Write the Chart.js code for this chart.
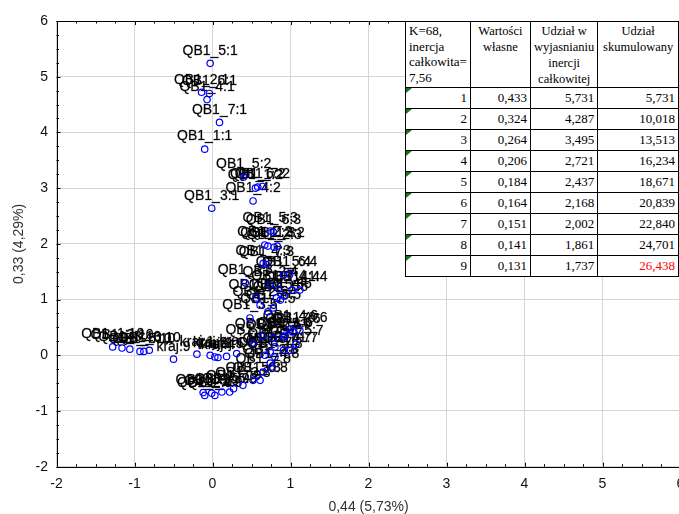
<!DOCTYPE html>
<html>
<head>
<meta charset="utf-8">
<script src="https://cdn.jsdelivr.net/npm/chart.js@4/dist/chart.umd.min.js"></script>
<style>
html,body{margin:0;padding:0;background:#fff;overflow:hidden;}
#wrap{position:relative;width:679px;height:514px;overflow:hidden;}
#wrap canvas{position:absolute;left:0;top:0;}
#tbl{position:absolute;left:405px;top:21px;border-collapse:collapse;table-layout:fixed;background:#fff;
  font-family:"Liberation Serif","Times New Roman",serif;font-size:13px;color:#000;}
#tbl td{border:1px solid #000;padding:0 3px;height:20px;text-align:right;position:relative;line-height:20px;white-space:nowrap;}
#tbl tr.head td{height:64px;vertical-align:top;text-align:center;font-size:12.5px;line-height:16px;padding-top:1px;}
#tbl tr.head td.k{text-align:left;font-size:13px;line-height:15.5px;}
#tbl td.n::before{content:"";position:absolute;left:0;top:0;border-top:5px solid #137a13;border-right:6px solid transparent;}
#tbl td.red{color:#ff0000;}
</style>
</head>
<body>
<div id="wrap">
<canvas id="mca_chart" width="700" height="514"></canvas>
<table id="tbl">
<colgroup><col style="width:61px"><col style="width:66px"><col style="width:67px"><col style="width:83px"></colgroup>
<tbody id="tbody"></tbody>
</table>
</div>
<script>
// punkty kategorii: etykieta, wymiar 1, wymiar 2
const catLabels = [
  'QB1_1:1','QB1_2:1','QB1_3:1','QB1_4:1','QB1_5:1','QB1_6:1','QB1_7:1',
  'QB1_1:2','QB1_2:2','QB1_3:2','QB1_4:2','QB1_5:2','QB1_6:2','QB1_7:2',
  'QB1_1:3','QB1_2:3','QB1_3:3','QB1_4:3','QB1_5:3','QB1_6:3','QB1_7:3',
  'QB1_1:4','QB1_2:4','QB1_3:4','QB1_4:4','QB1_5:4','QB1_6:4','QB1_7:4',
  'QB1_1:5','QB1_2:5','QB1_3:5','QB1_4:5','QB1_5:5','QB1_6:5','QB1_7:5',
  'QB1_1:6','QB1_2:6','QB1_3:6','QB1_4:6','QB1_5:6','QB1_6:6','QB1_7:6',
  'QB1_1:7','QB1_2:7','QB1_3:7','QB1_4:7','QB1_5:7','QB1_6:7','QB1_7:7',
  'QB1_1:8','QB1_2:8','QB1_3:8','QB1_4:8','QB1_5:8','QB1_6:8','QB1_7:8',
  'QB1_1:9','QB1_2:9','QB1_3:9','QB1_4:9','QB1_5:9','QB1_6:9','QB1_7:9',
  'QB1_1:10','QB1_2:10','QB1_3:10','QB1_4:10','QB1_5:10','QB1_6:10',
  'kraj:9','kraj:1','kraj:2','kraj:3','kraj:4','kraj:5','kraj:6'
];
const dim1 = [
  -0.10,-0.14,-0.01,-0.07,-0.03,-0.04,0.09,
  0.55,0.67,0.83,0.52,0.40,0.58,0.64,
  0.71,0.79,0.42,0.65,0.74,0.78,0.69,
  1.12,0.74,0.56,1.02,0.91,0.99,0.85,
  0.87,0.61,0.48,0.92,0.82,0.78,0.71,
  0.93,0.78,0.64,1.00,0.91,1.12,1.03,
  1.00,0.80,0.52,0.91,1.07,0.74,0.67,
  0.80,0.74,0.39,0.76,0.52,0.61,0.65,
  -0.12,-0.10,-0.01,0.03,0.12,0.22,0.27,
  -1.28,-1.16,-1.06,-0.93,-0.88,-0.81,
  -0.50,-0.20,-0.03,0.03,0.07,0.18,0.31
];
const dim2 = [
  3.70,4.72,2.64,4.59,5.24,4.70,4.18,
  3.00,1.98,1.96,2.77,3.20,3.02,3.03,
  1.96,1.94,1.30,1.65,2.23,2.21,1.63,
  1.17,1.26,1.03,1.17,1.44,1.45,1.19,
  0.99,0.90,0.67,1.06,1.03,0.85,0.78,
  0.36,0.31,0.34,0.47,0.33,0.45,0.42,
  0.09,0.15,0.22,0.09,0.20,0.06,0.00,
  -0.03,-0.14,-0.54,-0.21,-0.45,-0.45,-0.30,
  -0.67,-0.72,-0.68,-0.72,-0.66,-0.66,-0.60,
  0.15,0.13,0.11,0.07,0.07,0.09,
  -0.07,0.02,0.00,-0.03,-0.04,-0.02,0.03
];

// tabela wartosci wlasnych
const tableHead = ['K=68,<br>inercja<br>całkowita=<br>7,56','Wartości<br>własne','Udział w<br>wyjasnianiu<br>inercji<br>całkowitej','Udział<br>skumulowany'];
const dimNo = [1,2,3,4,5,6,7,8,9];
const eigenValues = ['0,433','0,324','0,264','0,206','0,184','0,164','0,151','0,141','0,131'];
const inertiaShare = ['5,731','4,287','3,495','2,721','2,437','2,168','2,002','1,861','1,737'];
const cumulShare = ['5,731','10,018','13,513','16,234','18,671','20,839','22,840','24,701','26,438'];

const buildTable = () => {
  const tb = document.getElementById('tbody');
  let html = '<tr class="head">';
  tableHead.forEach((h,i) => { html += '<td' + (i===0?' class="k"':'') + '>' + h + '</td>'; });
  html += '</tr>';
  for(let i = 0;i < dimNo.length;i++) {
    const last = i === dimNo.length - 1;
    html += '<tr><td class="n">' + dimNo[i] + '</td><td>' + eigenValues[i] + '</td><td>' + inertiaShare[i] +
      '</td><td' + (last?' class="red"':'') + '>' + cumulShare[i] + '</td></tr>';
  }
  tb.innerHTML = html;
}

const FONT = '"Liberation Sans", Arial, sans-serif';

// etykiety punktow nad markerami
const labelPlugin = {
  id:'pointLabels',
  beforeDatasetsDraw(chart) {
    const ctx = chart.ctx;
    const meta = chart.getDatasetMeta(0);
    ctx.save();
    ctx.font = '14px ' + FONT;
    ctx.fillStyle = '#000';
    ctx.strokeStyle = 'rgba(0,0,0,0.55)';
    ctx.lineWidth = 0.4;
    ctx.textAlign = 'center';
    ctx.textBaseline = 'middle';
    meta.data.forEach((pt,i) => {
      ctx.fillText(catLabels[i], pt.x, pt.y - 12.5);
      ctx.strokeText(catLabels[i], pt.x, pt.y - 12.5);
    });
    ctx.restore();
  }
};

// osie, ramka i male znaczniki
const framePlugin = {
  id:'frame',
  beforeDatasetsDraw(chart) {
    const {ctx, chartArea:a, scales} = chart;
    ctx.save();
    ctx.strokeStyle = '#000';
    ctx.lineWidth = 1;
    ctx.beginPath();
    ctx.moveTo(Math.round(a.left)+0.5, a.top); ctx.lineTo(Math.round(a.left)+0.5, a.bottom);
    ctx.moveTo(a.left, Math.round(a.bottom)+0.5); ctx.lineTo(a.right, Math.round(a.bottom)+0.5);
    ctx.moveTo(a.left, Math.round(a.top)+0.5); ctx.lineTo(a.right, Math.round(a.top)+0.5);
    for(let v = -2;v <= 6.001;v += 0.25) {
      const major = Math.abs(v - Math.round(v)) < 1e-6;
      const len = major ? 4 : 2.5;
      const px = Math.round(scales.x.getPixelForValue(v)) + 0.5;
      ctx.moveTo(px, a.bottom); ctx.lineTo(px, a.bottom - len);
      ctx.moveTo(px, a.top); ctx.lineTo(px, a.top + len);
      const py = Math.round(scales.y.getPixelForValue(v)) + 0.5;
      ctx.moveTo(a.left, py); ctx.lineTo(a.left + len, py);
    }
    ctx.stroke();
    ctx.restore();
  }
};

let mca_chart = false;
const createChart = () => {
  const ctx = document.getElementById('mca_chart').getContext('2d');
  const points = dim1.map((x,i) => ({x:x, y:dim2[i]}));
  mca_chart = new Chart(ctx, {
    type:'scatter',
    data:{
      datasets:[{
        label:'kategorie',
        data:points,
        pointRadius:3.2,
        pointHoverRadius:3.2,
        pointBorderWidth:1.2,
        borderColor:'#0000ff',
        backgroundColor:'rgba(0,0,0,0)'
      }]
    },
    options:{
      responsive:false,
      animation:false,
      events:[],
      layout:{padding:{top:21,right:19.5,left:0,bottom:0}},
      plugins:{legend:{display:false},tooltip:{enabled:false}},
      scales:{
        x:{
          type:'linear',min:-2,max:6,
          ticks:{stepSize:1,padding:9,color:'#111',font:{family:FONT,size:14}},
          grid:{color:'#d6d6d6',drawTicks:false},
          border:{display:false},
          title:{display:true,text:'0,44 (5,73%)',color:'#333',font:{family:FONT,size:14,lineHeight:1},padding:{top:0,bottom:0}},
          afterFit(s){ s.height = 47.3; }
        },
        y:{
          type:'linear',min:-2,max:6,
          ticks:{stepSize:1,padding:8.5,color:'#111',font:{family:FONT,size:14}},
          grid:{color:'#d6d6d6',drawTicks:false},
          border:{display:false},
          title:{display:true,text:'0,33 (4,29%)',color:'#333',font:{family:FONT,size:14,lineHeight:1},padding:{top:12,bottom:0}},
          afterFit(s){ s.width = 56.5; }
        }
      }
    },
    plugins:[framePlugin,labelPlugin]
  });
}

document.addEventListener('DOMContentLoaded',()=>{
  buildTable();
  createChart();
})
</script>
</body>
</html>
